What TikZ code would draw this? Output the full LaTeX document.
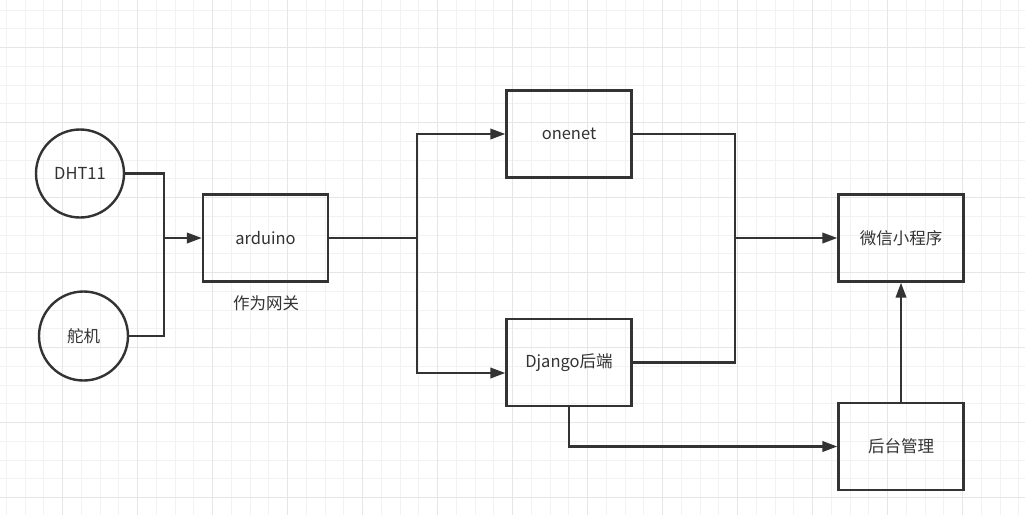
\documentclass[tikz,border=0pt]{standalone}
\usepackage{fontspec}
\setmainfont{Noto Sans CJK SC}
\usetikzlibrary{arrows.meta}
\definecolor{darkgray}{HTML}{333333}
\definecolor{gridminor}{HTML}{F2F2F2}
\definecolor{gridmajor}{HTML}{E6E6E6}
\begin{document}
\begin{tikzpicture}[x=1pt,y=-1pt,>={Triangle[length=15pt,width=10.5pt]},
	box/.style={draw=darkgray,line width=2.4pt,minimum width=125pt,minimum height=87pt,
		text=darkgray,font=\fontsize{16.5}{18}\selectfont},
	dev/.style={draw=darkgray,line width=2.4pt,circle,minimum size=88pt,inner sep=0pt,
		text=darkgray,font=\fontsize{16.5}{18}\selectfont},
	link/.style={draw=darkgray,line width=2.2pt}]
\useasboundingbox (0,0) rectangle (1025,515);
\fill[white] (0,0) rectangle (1025,515);
\foreach \x in {6.25,25,...,1025}{
	\draw[gridminor,line width=1pt] (\x,0) -- (\x,515);
}
\foreach \y in {10,28.75,...,515}{
	\draw[gridminor,line width=1pt] (0,\y) -- (1025,\y);
}
\foreach \x in {62.5,137.5,...,1025}{
	\draw[gridmajor,line width=1pt] (\x,0) -- (\x,515);
}
\foreach \y in {47.5,122.5,...,515}{
	\draw[gridmajor,line width=1pt] (0,\y) -- (1025,\y);
}
\node[dev] (dht) at (80,173.5) {DHT11};
\node[dev,minimum size=89pt] (servo) at (83.5,336) {舵机};
\node[box] (ard) at (265.5,238) {arduino};
\node at (266,303) [text=darkgray,font=\fontsize{16.5}{18}\selectfont] (gw) {作为网关};
\node[box] (onenet) at (569,134) {onenet};
\node[box] (django) at (569,362.5) {Django后端};
\node[box] (wx) at (901,238) {微信小程序};
\node[box] (admin) at (901,446.5) {后台管理};
\coordinate (j1) at (164,238);
\coordinate (j2) at (417,238);
\coordinate (j3) at (735,238);
\draw[link] (dht.east) -| (j1);
\draw[link] (servo.east) -| (j1);
\draw[link,->] (j1) -- (ard.west);
\draw[link] (ard.east) -- (j2);
\draw[link,->] (j2) |- (onenet.west);
\draw[link,->] (j2) |- ([yshift=-10.5pt]django.west);
\draw[link] (onenet.east) -| (j3);
\draw[link] (django.east) -| (j3);
\draw[link,->] (j3) -- (wx.west);
\draw[link,->] (django.south) |- (admin.west);
\draw[link,->] (admin.north) -- (wx.south);
\end{tikzpicture}
\end{document}
